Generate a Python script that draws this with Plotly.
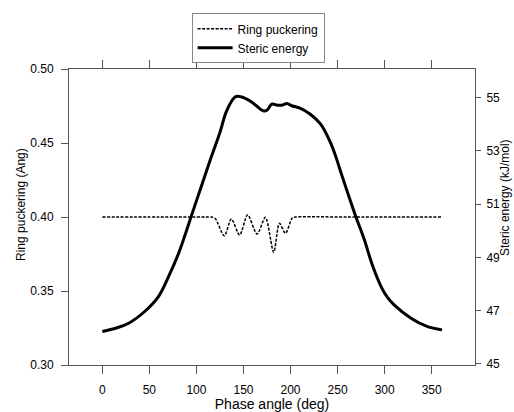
import plotly.graph_objects as go

# Ring puckering (Ang) vs phase angle (deg)
phase_pucker = [0, 60, 110, 116, 120, 129.6, 137.1, 145.9, 154.4, 164.4, 173.3,
                182.1, 188.2, 194.6, 202, 206, 260, 360]
pucker = [0.400, 0.400, 0.400, 0.400, 0.399, 0.3873, 0.3986, 0.3878, 0.4014, 0.3885,
          0.3998, 0.3762, 0.3957, 0.389, 0.3995, 0.400, 0.400, 0.400]

# Steric energy (kJ/mol) vs phase angle (deg)
phase_energy = [0, 15, 28, 45, 60, 70, 81, 88, 95, 105, 115, 125, 132, 141, 147,
                157, 164, 171, 175, 180, 186, 191, 196, 202, 210, 221, 232, 242,
                248, 253, 264, 269, 278, 287, 297, 303, 310, 328, 345, 361]
energy = [46.22, 46.35, 46.53, 46.97, 47.55, 48.25, 49.15, 49.85, 50.6, 51.65,
          52.7, 53.7, 54.5, 55.03, 55.04, 54.88, 54.69, 54.51, 54.53, 54.76,
          54.72, 54.72, 54.78, 54.69, 54.61, 54.38, 54.01, 53.35, 52.8, 52.25,
          51.08, 50.57, 49.71, 48.71, 47.85, 47.5, 47.22, 46.72, 46.41, 46.28]

x_ticks = [0, 50, 100, 150, 200, 250, 300, 350]
y_ticks = [0.30, 0.35, 0.40, 0.45, 0.50]
y_tick_labels = ["0.30", "0.35", "0.40", "0.45", "0.50"]
y2_ticks = [45, 47, 49, 51, 53, 55]

FONT = "Liberation Sans, Arial, sans-serif"
LINE = "#555555"

fig = go.Figure()
fig.add_trace(go.Scatter(
    x=phase_pucker, y=pucker, name="Ring puckering", mode="lines",
    line=dict(color="black", width=1.5, dash="3px,1.5px", shape="spline", smoothing=0.8),
    yaxis="y"))
fig.add_trace(go.Scatter(
    x=phase_energy, y=energy, name="Steric energy", mode="lines",
    line=dict(color="black", width=3, shape="spline", smoothing=1.0),
    yaxis="y2"))

fig.update_layout(
    width=514, height=412,
    margin=dict(l=69, r=39, t=69, b=47, autoexpand=False),
    paper_bgcolor="white", plot_bgcolor="white",
    font=dict(family=FONT, size=12, color="black"),
    showlegend=True,
    legend=dict(x=0.302, y=1.188, xanchor="left", yanchor="top",
                bordercolor="#888888", borderwidth=1, bgcolor="white",
                itemwidth=35,
                font=dict(family=FONT, size=12), tracegroupgap=0),
    xaxis=dict(range=[-35.4, 396], tickvals=x_ticks, showgrid=False, zeroline=False,
               showline=True, linecolor=LINE, linewidth=1, mirror="ticks",
               ticks="outside", ticklen=8, tickcolor=LINE, tickwidth=1,
               ticklabelstandoff=6,
               title=dict(text="Phase angle (deg)", standoff=6), automargin=False),
    yaxis=dict(range=[0.30, 0.50], tickvals=y_ticks, ticktext=y_tick_labels,
               showgrid=False, zeroline=False,
               showline=True, linecolor=LINE, linewidth=1, mirror=False,
               ticks="outside", ticklen=7, tickcolor=LINE, tickwidth=1,
               ticklabelstandoff=5, automargin=False),
    yaxis2=dict(range=[44.96, 56.08], tickvals=y2_ticks, overlaying="y", side="right",
                showgrid=False, zeroline=False,
                showline=True, linecolor=LINE, linewidth=1,
                ticks="outside", ticklen=5, tickcolor=LINE, tickwidth=1,
                ticklabelstandoff=3, automargin=False),
    annotations=[
        dict(text="Ring puckering (Ang)", xref="paper", yref="paper",
             x=-0.1165, y=0.543, xanchor="center", yanchor="middle",
             textangle=-90, showarrow=False, font=dict(family=FONT, size=12)),
        dict(text="Steric energy (kJ/mol)", xref="paper", yref="paper",
             x=1.0755, y=0.566, xanchor="center", yanchor="middle",
             textangle=-90, showarrow=False, font=dict(family=FONT, size=12)),
    ],
)

fig.write_html("out.html")
